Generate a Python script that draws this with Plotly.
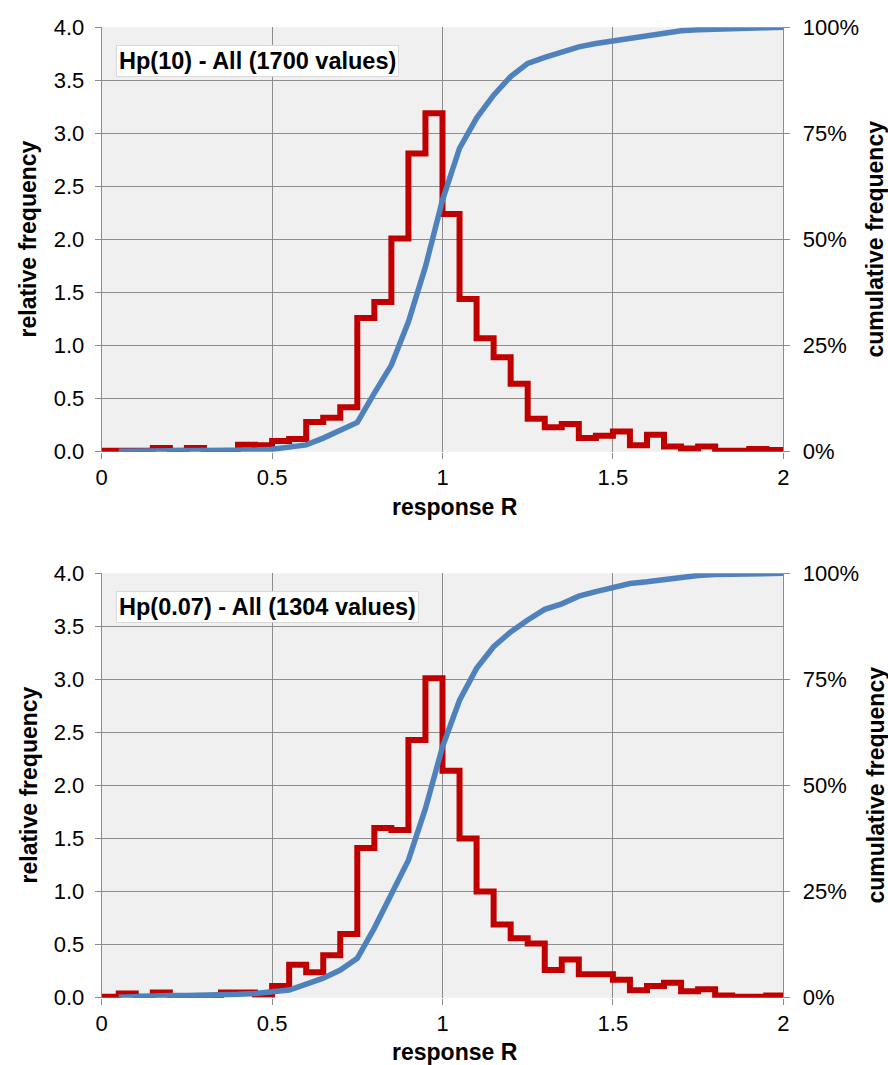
import plotly.graph_objects as go

# ---- data ----
bin_edges = [round(0.05 * i, 2) for i in range(41)]  # 0 .. 2.0
cum_x = [round(0.05 * i, 2) for i in range(1, 41)]    # 0.05 .. 2.0

top_label = "Hp(10) - All (1700 values)"
top_rel = [0.01, 0.01, 0.01, 0.035, 0.01, 0.035, 0.0, 0.0, 0.065, 0.06,
           0.10, 0.12, 0.28, 0.32, 0.42, 1.26, 1.41, 2.01, 2.81, 3.19,
           2.24, 1.44, 1.07, 0.89, 0.64, 0.31, 0.23, 0.26, 0.13, 0.15,
           0.19, 0.06, 0.16, 0.05, 0.03, 0.05, 0.01, 0.01, 0.025, 0.015]
top_cum = [0.1, 0.1, 0.2, 0.2, 0.3, 0.3, 0.3, 0.3, 0.4, 0.6,
           1.0, 1.6, 3.2, 5.0, 6.9, 13.8, 20.4, 30.6, 43.6, 59.3,
           71.5, 78.6, 84.0, 88.4, 91.5, 92.9, 94.1, 95.4, 96.2, 96.8,
           97.7, 98.2, 98.9, 99.2, 99.4, 99.6, 99.7, 99.8, 99.9, 100.0]

bot_label = "Hp(0.07) - All (1304 values)"
bot_rel = [0.01, 0.04, 0.01, 0.05, 0.01, 0.01, 0.01, 0.05, 0.05, 0.03,
           0.11, 0.31, 0.24, 0.40, 0.60, 1.41, 1.60, 1.58, 2.43, 3.01,
           2.14, 1.50, 1.00, 0.69, 0.56, 0.51, 0.26, 0.36, 0.22, 0.22,
           0.17, 0.07, 0.11, 0.14, 0.06, 0.08, 0.02, 0.01, 0.01, 0.02]
bot_cum = [0.1, 0.3, 0.4, 0.5, 0.5, 0.5, 0.6, 0.8, 1.0, 1.3,
           1.8, 3.2, 4.6, 6.5, 9.3, 16.4, 24.2, 32.4, 44.6, 59.1,
           70.1, 77.6, 82.7, 86.2, 89.0, 91.5, 92.8, 94.6, 95.7, 96.8,
           97.6, 98.0, 98.5, 99.2, 99.5, 99.7, 99.8, 99.8, 99.9, 100.0]

x_ticks = [0, 0.5, 1, 1.5, 2]
x_tick_text = ["0", "0.5", "1", "1.5", "2"]
y_ticks = [0, 0.5, 1, 1.5, 2, 2.5, 3, 3.5, 4]
y_tick_text = ["0.0", "0.5", "1.0", "1.5", "2.0", "2.5", "3.0", "3.5", "4.0"]
y2_ticks = [0, 25, 50, 75, 100]
y2_tick_text = ["0%", "25%", "50%", "75%", "100%"]

# ---- style ----
W, H = 888, 1065
RED = "#C00000"
BLUE = "#4F81BD"
GRID = "#8C8C8C"
FONT = "Liberation Sans, Arial, sans-serif"
TICK_SIZE = 22
TITLE_SIZE = 23

def px_x(p):
    return p / W

def px_y(p):
    return (H - p) / H

xdom = [px_x(101.7), px_x(783.3)]
top_dom = [px_y(451.7), px_y(27.3)]
bot_dom = [px_y(997.7), px_y(573.3)]

fig = go.Figure()

panels = [
    (top_rel, top_cum, "x", "y", "y2"),
    (bot_rel, bot_cum, "x2", "y3", "y4"),
]
for rel, cum, xa, ya, ya2 in panels:
    fig.add_trace(go.Scatter(
        x=bin_edges, y=rel + [rel[-1]], mode="lines", line_shape="hv",
        line=dict(color=RED, width=6), xaxis=xa, yaxis=ya, showlegend=False,
        hoverinfo="skip"))
    fig.add_trace(go.Scatter(
        x=cum_x, y=cum, mode="lines",
        line=dict(color=BLUE, width=5.5), xaxis=xa, yaxis=ya2, showlegend=False,
        hoverinfo="skip"))

common_x = dict(range=[0, 2], tickvals=x_ticks, ticktext=x_tick_text,
                showgrid=True, gridcolor=GRID, gridwidth=1, zeroline=False,
                showline=False, ticks="outside", ticklen=6, tickcolor=GRID,
                tickfont=dict(family=FONT, size=TICK_SIZE, color="black"),
                automargin=False, fixedrange=True, domain=xdom)
common_y = dict(range=[0, 4], tickvals=y_ticks, ticktext=y_tick_text,
                showgrid=True, gridcolor=GRID, gridwidth=1, zeroline=False,
                showline=True, linecolor=GRID, linewidth=1,
                ticks="outside", ticklen=6, tickcolor=GRID,
                ticklabelstandoff=6,
                tickfont=dict(family=FONT, size=TICK_SIZE, color="black"),
                automargin=False, fixedrange=True)
common_y2 = dict(range=[0, 100], tickvals=y2_ticks, ticktext=y2_tick_text,
                 showgrid=False, zeroline=False, showline=True, linecolor=GRID,
                 linewidth=1, side="right",
                 ticks="outside", ticklen=6, tickcolor=GRID,
                 ticklabelstandoff=8,
                 tickfont=dict(family=FONT, size=TICK_SIZE, color="black"),
                 automargin=False, fixedrange=True)

fig.update_layout(
    width=W, height=H,
    margin=dict(l=0, r=0, t=0, b=0),
    paper_bgcolor="white",
    plot_bgcolor="#F0F0F0",
    xaxis=dict(common_x, anchor="y"),
    yaxis=dict(common_y, domain=top_dom, anchor="x"),
    yaxis2=dict(common_y2, overlaying="y", anchor="x"),
    xaxis2=dict(common_x, anchor="y3"),
    yaxis3=dict(common_y, domain=bot_dom, anchor="x2"),
    yaxis4=dict(common_y2, overlaying="y3", anchor="x2"),
)

annots = []
for label, box_top, mid_px, xt_y in [(top_label, 45, 239.5, 507),
                                     (bot_label, 590.7, 785.5, 1052)]:
    annots.append(dict(
        text="<b>%s</b>" % label, xref="paper", yref="paper",
        x=px_x(116), y=px_y(box_top), xanchor="left", yanchor="top",
        showarrow=False, bgcolor="white", bordercolor="#D9D9D9",
        borderwidth=1, borderpad=2,
        font=dict(family=FONT, size=23.5, color="black")))
    annots.append(dict(
        text="<b>relative frequency</b>", xref="paper", yref="paper",
        x=px_x(28), y=px_y(mid_px), textangle=-90, showarrow=False,
        xanchor="center", yanchor="middle",
        font=dict(family=FONT, size=TITLE_SIZE, color="black")))
    annots.append(dict(
        text="<b>cumulative frequency</b>", xref="paper", yref="paper",
        x=px_x(875), y=px_y(mid_px), textangle=-90, showarrow=False,
        xanchor="center", yanchor="middle",
        font=dict(family=FONT, size=TITLE_SIZE, color="black")))
    annots.append(dict(
        text="<b>response R</b>", xref="paper", yref="paper",
        x=px_x(455), y=px_y(xt_y), showarrow=False,
        xanchor="center", yanchor="middle",
        font=dict(family=FONT, size=TITLE_SIZE, color="black")))
fig.update_layout(annotations=annots)

post = ("document.documentElement.style.margin='0';"
        "document.documentElement.style.overflow='hidden';"
        "document.body.style.margin='0';"
        "document.body.style.padding='0';"
        "document.body.style.overflow='hidden';")
fig.write_html("out.html", post_script=post,
               config={"displayModeBar": False, "staticPlot": False})
